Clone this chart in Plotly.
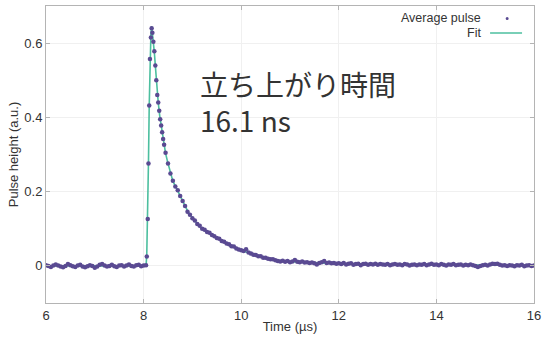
import plotly.graph_objects as go

# ---- data ----
# baseline before the pulse, sampled every 0.05 µs from 6.00 µs
baseline_start = 6.00
baseline_step = 0.05
baseline_values = [0.002, 0.000, -0.003, 0.001, 0.004, 0.001, -0.002, -0.004, 0.000, 0.005,
                   0.002, -0.001, -0.003, 0.001, 0.003, -0.002, -0.004, -0.001, 0.002, 0.000,
                   -0.005, -0.002, 0.003, 0.005, 0.001, -0.002, 0.000, 0.003, -0.001, -0.003,
                   0.001, 0.002, -0.002, 0.001, 0.004, 0.000, -0.002, 0.002, 0.003, -0.001,
                   0.001, 0.002]

# rise and peak region
peak_times = [8.065, 8.085, 8.10, 8.115, 8.13, 8.15, 8.165, 8.18, 8.20, 8.22,
              8.24, 8.26, 8.28, 8.30, 8.32, 8.34, 8.36, 8.38, 8.40, 8.42]
peak_values = [0.025, 0.126, 0.276, 0.432, 0.557, 0.615, 0.640, 0.628, 0.604, 0.578,
               0.540, 0.500, 0.460, 0.440, 0.418, 0.395, 0.378, 0.360, 0.342, 0.326]

# decay tail, sampled every 0.05 µs from 8.45 µs
tail_start = 8.45
tail_step = 0.05
tail_values = [0.305, 0.276, 0.249, 0.229, 0.214, 0.204, 0.188, 0.175, 0.161, 0.146,
               0.138, 0.128, 0.122, 0.113, 0.108, 0.100, 0.097, 0.091, 0.089, 0.083,
               0.080, 0.075, 0.073, 0.067, 0.065, 0.060, 0.058, 0.053, 0.052, 0.047,
               0.044, 0.042, 0.040, 0.045, 0.036, 0.033, 0.030, 0.029, 0.026, 0.026,
               0.022, 0.022, 0.019, 0.018, 0.018, 0.015, 0.013, 0.012, 0.014, 0.011,
               0.013, 0.010, 0.012, 0.016, 0.011, 0.010, 0.012, 0.009, 0.010, 0.008,
               0.009, 0.007, 0.004, 0.008, 0.010, 0.013, 0.008, 0.009, 0.007, 0.008,
               0.006, 0.007, 0.005, 0.008, 0.004, 0.006, 0.007, 0.003, 0.005, 0.006,
               0.002, 0.005, 0.006, 0.003, 0.005, 0.004, 0.006, 0.003, 0.005, 0.004,
               0.003, 0.005, 0.002, 0.004, 0.005, 0.003, 0.004, 0.002, 0.005, 0.004,
               0.001, 0.003, 0.004, 0.002, 0.004, 0.003, 0.005, 0.002, 0.004, 0.006,
               0.003, 0.004, 0.002, 0.005, 0.003, 0.001, 0.004, 0.003, 0.005, 0.002,
               0.003, 0.004, 0.001, 0.003, 0.002, 0.004, 0.002, 0.000, -0.003, 0.000,
               0.002, 0.003, 0.001, 0.004, 0.006, 0.005, 0.006, 0.003, 0.001, 0.002,
               0.000, 0.002, 0.001, -0.001, 0.002, 0.001, 0.003, -0.001, 0.001, 0.002,
               0.000, 0.001]

# fit curve
fit_times = [6.0, 8.05, 8.065, 8.085, 8.10, 8.115, 8.13, 8.15, 8.165, 8.18,
             8.20, 8.22, 8.24, 8.26, 8.28, 8.30, 8.33, 8.36, 8.40, 8.45,
             8.50, 8.55, 8.60, 8.70, 8.80, 8.90, 9.00, 9.10, 9.20, 9.35,
             9.50, 9.70, 9.90, 10.1, 10.3, 10.5, 10.7, 11.0, 11.5, 12.0,
             13.0, 14.0, 15.0, 16.0]
fit_values = [0.0, 0.0, 0.03, 0.13, 0.28, 0.43, 0.555, 0.625, 0.645, 0.630,
              0.604, 0.575, 0.540, 0.500, 0.462, 0.440, 0.405, 0.378, 0.342, 0.303,
              0.276, 0.250, 0.228, 0.202, 0.175, 0.148, 0.128, 0.113, 0.100, 0.087,
              0.075, 0.060, 0.047, 0.037, 0.028, 0.021, 0.016, 0.011, 0.008, 0.006,
              0.004, 0.003, 0.002, 0.001]

x_ticks = [6, 8, 10, 12, 14, 16]
y_ticks = [0, 0.2, 0.4, 0.6]
y_tick_labels = ["0", "0.2", "0.4", "0.6"]

# ---- assemble data series ----
baseline_times = [round(baseline_start + baseline_step * i, 4) for i in range(len(baseline_values))]
tail_times = [round(tail_start + tail_step * i, 4) for i in range(len(tail_values))]
pulse_times = baseline_times + peak_times + tail_times
pulse_values = baseline_values + peak_values + tail_values

DATA_COLOR = "#5a4a92"
FIT_COLOR = "#4dbf9f"
TEXT = "#333333"
FONT = "Liberation Sans, Arial, sans-serif"

fig = go.Figure()
fig.add_trace(go.Scatter(x=fit_times, y=fit_values, mode="lines",
                         line=dict(color=FIT_COLOR, width=1.6), name="Fit",
                         showlegend=False))
fig.add_trace(go.Scatter(x=pulse_times, y=pulse_values, mode="markers",
                         marker=dict(color=DATA_COLOR, size=4.5), name="Average pulse",
                         showlegend=False))

axis_common = dict(
    showline=True, linecolor="#b4b4b4", linewidth=1, mirror="ticks",
    ticks="inside", ticklen=4, tickcolor="#b4b4b4",
    showgrid=True, gridcolor="#f0f0f0", gridwidth=1, zeroline=False,
    tickfont=dict(family=FONT, size=13, color=TEXT),
    automargin=False,
)

fig.update_layout(
    width=543, height=340,
    margin=dict(l=46, r=9, t=6, b=37),
    paper_bgcolor="white", plot_bgcolor="white",
    showlegend=False,
    xaxis=dict(range=[6, 16], tickvals=x_ticks,
               title=dict(text="Time (µs)", font=dict(family=FONT, size=13, color=TEXT),
                          standoff=0),
               **axis_common),
    yaxis=dict(range=[-0.1, 0.7], tickvals=y_ticks, ticktext=y_tick_labels,
               title=dict(text="Pulse height (a.u.)", font=dict(family=FONT, size=13, color=TEXT),
                          standoff=2),
               **axis_common),
)

# in-plot text
fig.add_annotation(x=9.11, y=0.549, xref="x", yref="y", xanchor="left", yanchor="top",
                   text="立ち上がり時間<br>16.1 ns", showarrow=False, align="left",
                   font=dict(family="Noto Sans CJK JP", size=28, color=TEXT))

# legend (text right-aligned, key to the right, as in the reference)
fig.add_annotation(x=0.895, y=0.958, xref="paper", yref="paper", xanchor="right", yanchor="middle",
                   text="Average pulse", showarrow=False,
                   font=dict(family=FONT, size=12.5, color=TEXT))
fig.add_annotation(x=0.895, y=0.909, xref="paper", yref="paper", xanchor="right", yanchor="middle",
                   text="Fit", showarrow=False,
                   font=dict(family=FONT, size=12.5, color=TEXT))
fig.add_shape(type="circle", xref="paper", yref="paper", xsizemode="pixel", ysizemode="pixel",
              xanchor=0.945, yanchor=0.958, x0=-1.5, x1=1.5, y0=-1.5, y1=1.5,
              fillcolor=DATA_COLOR, line=dict(width=0))
fig.add_shape(type="line", xref="paper", yref="paper", x0=0.910, x1=0.9755, y0=0.909, y1=0.909,
              line=dict(color=FIT_COLOR, width=1.6))

fig.write_html("out.html", config={"displayModeBar": False},
               post_script="document.body.style.margin='0';")
